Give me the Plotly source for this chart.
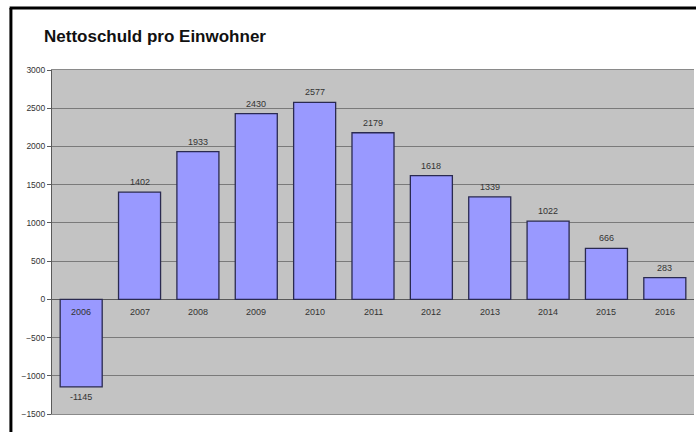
import plotly.graph_objects as go

years = ["2006", "2007", "2008", "2009", "2010", "2011", "2012", "2013", "2014", "2015", "2016"]
values = [-1145, 1402, 1933, 2430, 2577, 2179, 1618, 1339, 1022, 666, 283]
title_text = "Nettoschuld pro Einwohner"
y_ticks = [-1500, -1000, -500, 0, 500, 1000, 1500, 2000, 2500, 3000]

FONT = "Liberation Sans, Arial, sans-serif"

fig = go.Figure()
fig.add_trace(go.Bar(
    x=list(range(len(years))), y=values,
    marker=dict(color="#9999ff", line=dict(color="#2a2a50", width=1.3)),
    width=0.72,
))

for i, (yr, v) in enumerate(zip(years, values)):
    # category label just below the zero line (Excel style)
    fig.add_annotation(x=i, y=0, xref="x", yref="y", text=yr, showarrow=False,
                       yanchor="top", yshift=-6,
                       font=dict(family=FONT, size=9, color="#333333"))
    # value label
    fig.add_annotation(x=i, y=v, xref="x", yref="y", text=str(v), showarrow=False,
                       yanchor="bottom" if v >= 0 else "top", yshift=3 if v >= 0 else -3,
                       font=dict(family=FONT, size=9, color="#333333"))

# outer frame (left and top black borders)
fig.add_shape(type="line", xref="paper", yref="paper", x0=-0.064, x1=-0.064, y0=-0.1, y1=1.18,
              line=dict(color="black", width=3))
fig.add_shape(type="line", xref="paper", yref="paper", x0=-0.066, x1=1.01, y0=1.18, y1=1.18,
              line=dict(color="black", width=3))

fig.update_layout(
    width=696, height=432,
    margin=dict(l=52, r=2, t=70, b=18),
    paper_bgcolor="white",
    plot_bgcolor="#c3c3c3",
    showlegend=False,
    title=dict(text="<b>" + title_text + "</b>", x=44 / 696, xref="container", xanchor="left",
               y=1 - 36 / 432, yref="container", yanchor="middle",
               font=dict(family=FONT, size=17, color="#111111")),
    xaxis=dict(type="linear", showticklabels=False, range=[-0.5, 10.5], showgrid=False,
               zeroline=False, showline=True, linecolor="#8a8a8a", mirror=True, ticks=""),
    yaxis=dict(range=[-1500, 3000], tickvals=y_ticks, showgrid=True, gridcolor="#7a7a7a",
               gridwidth=1, zeroline=True, zerolinecolor="#5a5a5a", zerolinewidth=1,
               showline=True, linecolor="#5a5a5a", mirror=False, ticks="outside", ticklen=4,
               tickcolor="#5a5a5a",
               tickfont=dict(family=FONT, size=8.5, color="#333333")),
)

fig.write_html("out.html")
